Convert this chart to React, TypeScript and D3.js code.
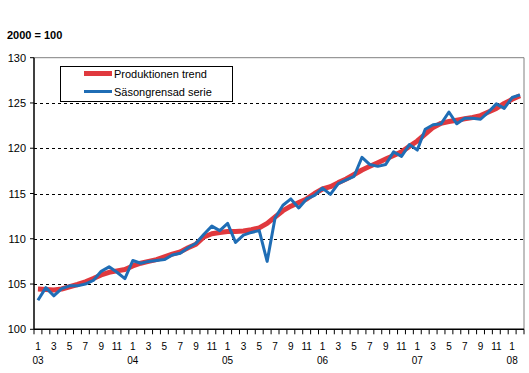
import React from "react";
import * as d3 from "d3";

const years = ["03", "04", "05", "06", "07", "08"];
const months: string[] = [];
for (let y = 0; y < 6; y++) {
  for (let m = 1; m <= 12; m++) {
    if (y === 5 && m > 2) break;
    months.push(`${years[y]}-${m}`);
  }
}

const trend = [
  104.45, 104.4, 104.35, 104.45, 104.7, 104.95, 105.25, 105.6, 106.0, 106.3, 106.45, 106.6,
  107.0, 107.3, 107.5, 107.7, 108.0, 108.3, 108.55, 109.0, 109.4, 110.2, 110.55, 110.7,
  110.8, 110.8, 110.85, 111.0, 111.2, 111.7, 112.4, 113.1, 113.6, 114.0, 114.4, 115.0,
  115.5, 115.75, 116.2, 116.6, 117.1, 117.6, 118.0, 118.4, 118.8, 119.2, 119.6, 120.2,
  120.8, 121.55, 122.3, 122.75, 122.95, 123.1, 123.25, 123.4, 123.6, 124.0, 124.4, 124.95,
  125.4, 125.8,
];

const seasonal = [
  103.2, 104.6, 103.7, 104.5, 104.8, 104.8, 105.0, 105.4, 106.4, 106.9, 106.3, 105.6,
  107.6, 107.3, 107.5, 107.6, 107.7, 108.2, 108.4, 109.0, 109.5, 110.5, 111.4, 110.9,
  111.7, 109.6, 110.4, 110.7, 110.9, 107.5, 112.3, 113.7, 114.4, 113.4, 114.4, 114.8,
  115.6, 114.9, 116.1, 116.5, 116.9, 119.0, 118.2, 118.0, 118.2, 119.6, 119.1, 120.4,
  119.8, 122.1, 122.6, 122.7, 124.0, 122.7, 123.3, 123.3, 123.2, 124.0, 124.9, 124.4,
  125.6, 125.9,
];

const yTicks = [100, 105, 110, 115, 120, 125, 130];
const seriesNames = ["Produktionen trend", "Säsongrensad serie"];
const unitLabel = "2000 = 100";

const W = 529;
const H = 373;
const left = 34;
const right = 524;
const top = 57.7;
const bottom = 329.3;

export default function App() {
  const x = d3.scaleBand<string>().domain(months).range([left, right]).padding(0);
  const y = d3.scaleLinear().domain([100, 130]).range([bottom, top]);
  const cx = (i: number) => (x(months[i]) as number) + x.bandwidth() / 2;
  const line = d3
    .line<number>()
    .x((_, i) => cx(i))
    .y((d) => y(d));

  const font = "Arial, 'Liberation Sans', sans-serif";

  return (
    <svg
      width={W}
      height={H}
      style={{ position: "absolute", left: 0, top: 0, background: "#fff" }}
      fontFamily={font}
    >
      <text x={7} y={39} fontSize={11} fontWeight="bold" fill="#000">
        {unitLabel}
      </text>
      {/* gridlines */}
      {yTicks.map((t) =>
        t === 100 ? null : t === 130 ? (
          <line key={t} x1={left} x2={right} y1={y(t)} y2={y(t)} stroke="#808080" strokeWidth={1} />
        ) : (
          <line
            key={t}
            x1={left}
            x2={right}
            y1={Math.round(y(t)) + 0.5}
            y2={Math.round(y(t)) + 0.5}
            stroke="#000"
            strokeWidth={1}
            strokeDasharray="3,3"
          />
        )
      )}
      {/* right border */}
      <line x1={right} x2={right} y1={top} y2={bottom} stroke="#808080" strokeWidth={1} />
      {/* y axis */}
      <line x1={left} x2={left} y1={top} y2={bottom} stroke="#000" strokeWidth={1.5} />
      {yTicks.map((t) => (
        <g key={t}>
          <line x1={left - 4} x2={left} y1={y(t)} y2={y(t)} stroke="#000" strokeWidth={1} />
          <text x={left - 8} y={y(t) + 4} fontSize={11} textAnchor="end" fill="#000">
            {t}
          </text>
        </g>
      ))}
      {/* x axis */}
      <line x1={left} x2={right} y1={bottom} y2={bottom} stroke="#000" strokeWidth={1.5} />
      {months.map((m, i) => (
        <line
          key={m}
          x1={(x(m) as number)}
          x2={(x(m) as number)}
          y1={bottom}
          y2={bottom + 5}
          stroke="#000"
          strokeWidth={1}
        />
      ))}
      <line x1={right} x2={right} y1={bottom} y2={bottom + 5} stroke="#000" strokeWidth={1} />
      {months.map((m, i) => {
        const mo = (i % 12) + 1;
        if (mo % 2 === 0) return null;
        return (
          <text key={"l" + m} x={cx(i)} y={350} fontSize={10} textAnchor="middle" fill="#000">
            {mo}
          </text>
        );
      })}
      {months.map((m, i) =>
        i % 12 === 0 ? (
          <text key={"y" + m} x={cx(i)} y={364} fontSize={10} textAnchor="middle" fill="#000">
            {years[i / 12]}
          </text>
        ) : null
      )}
      {/* series */}
      <path d={line(trend) || ""} fill="none" stroke="#E0393E" strokeWidth={5} strokeLinejoin="round" />
      <path d={line(seasonal) || ""} fill="none" stroke="#1F6DB5" strokeWidth={3} strokeLinejoin="round" />
      {/* legend */}
      <rect x={60.5} y={66.5} width={172} height={35} fill="#fff" stroke="#000" strokeWidth={1} />
      <line x1={84} x2={112} y1={73.5} y2={73.5} stroke="#E0393E" strokeWidth={5} />
      <line x1={84} x2={112} y1={91.5} y2={91.5} stroke="#1F6DB5" strokeWidth={3} />
      <text x={114} y={77.5} fontSize={11} fill="#000">
        {seriesNames[0]}
      </text>
      <text x={114} y={95.5} fontSize={11} fill="#000">
        {seriesNames[1]}
      </text>
    </svg>
  );
}
